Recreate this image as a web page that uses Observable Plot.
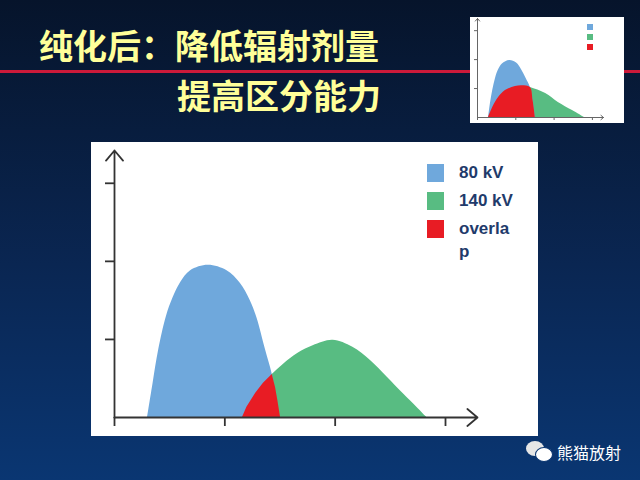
<!DOCTYPE html>
<html>
<head>
<meta charset="utf-8">
<script src="https://cdn.jsdelivr.net/npm/d3@7"></script>
<script src="https://cdn.jsdelivr.net/npm/@observablehq/plot@0.6"></script>
<style>
  html, body { margin: 0; padding: 0; }
  body { width: 640px; height: 480px; overflow: hidden; position: relative;
         background: linear-gradient(to bottom, #06142b 0%, #0a2652 55%, #0a3672 100%);
         font-family: "Liberation Sans", Arial, sans-serif; }
  .title { position: absolute; color: #ffff99; font-family: "Noto Sans CJK SC", sans-serif;
           font-weight: 700; font-size: 34px; line-height: 34px; white-space: nowrap; }
  #rule { position: absolute; left: 0; top: 70px; width: 640px; height: 3px; background: #cc1a3a; }
  #main { position: absolute; left: 91px; top: 142px; width: 447px; height: 294px; }
  #inset { position: absolute; left: 470px; top: 17px; width: 154px; height: 106px; }
  .sw { position: absolute; }
  .lt { position: absolute; font-weight: 700; font-size: 17px; line-height: 23px; color: #1f3b6b;
        width: 56px; word-break: break-all; }
  #wm { position: absolute; left: 557px; top: 440px; color: #ffffff; font-family: "Noto Sans CJK SC", sans-serif;
        font-size: 16px; line-height: 24px; white-space: nowrap; }
  .bub { position: absolute; border-radius: 50%; }
</style>
</head>
<body>
<div id="rule"></div>
<div class="title" id="t1" style="left:39px; top:28px;"></div>
<div class="title" id="t2" style="left:177px; top:78px;"></div>
<div id="inset"></div>
<div id="main"></div>
<div class="bub" style="left:526px; top:441px; width:18px; height:15px; background:#e6e6e6;"></div>
<div class="bub" style="left:535px; top:447px; width:16px; height:13px; background:#ffffff; border:1px solid #0a3570;"></div>
<div id="wm"></div>
<script>
// ---- text ----
const titleLine1 = "纯化后：降低辐射剂量";
const titleLine2 = "提高区分能力";
const watermark = "熊猫放射";

// ---- series ----
const seriesNames = ["80 kV", "140 kV", "overlap"];
const seriesColors = ["#6fa8dc", "#58bc82", "#e81c24"];

// main chart (after purification)
const blueX = [0.30, 0.35, 0.40, 0.47, 0.53, 0.60, 0.69, 0.85, 1.02, 1.14, 1.23, 1.29, 1.37, 1.43, 1.50];
const blueY = [0.00, 0.44, 0.86, 1.29, 1.53, 1.73, 1.88, 1.95, 1.88, 1.72, 1.50, 1.28, 0.86, 0.55, 0.00];
const greenX = [1.16, 1.20, 1.28, 1.35, 1.43, 1.53, 1.66, 1.80, 1.98, 2.16, 2.32, 2.47, 2.62, 2.74, 2.83];
const greenY = [0.00, 0.13, 0.31, 0.44, 0.55, 0.68, 0.82, 0.92, 0.99, 0.90, 0.73, 0.52, 0.30, 0.13, 0.00];
const overlapX = [1.16, 1.20, 1.24, 1.28, 1.35, 1.43, 1.46, 1.48, 1.505];
const overlapY = [0.00, 0.13, 0.22, 0.31, 0.44, 0.55, 0.38, 0.22, 0.00];

// inset chart (before purification)
const insetBlueX = [0.29, 0.34, 0.40, 0.47, 0.55, 0.65, 0.84, 1.02, 1.15, 1.27, 1.38, 1.45, 1.51];
const insetBlueY = [0.00, 0.50, 0.95, 1.35, 1.65, 1.85, 1.97, 1.88, 1.65, 1.35, 1.04, 0.60, 0.00];
const insetGreenX = [0.29, 0.40, 0.55, 0.73, 0.99, 1.17, 1.38, 1.78, 2.11, 2.48, 2.79];
const insetGreenY = [0.00, 0.35, 0.69, 0.93, 1.07, 1.10, 1.04, 0.83, 0.52, 0.24, 0.00];
const insetOverlapX = [0.29, 0.40, 0.55, 0.73, 0.99, 1.17, 1.38, 1.45, 1.51];
const insetOverlapY = [0.00, 0.35, 0.69, 0.93, 1.07, 1.10, 1.04, 0.60, 0.00];

// axes
const xMax = 3.29, yMax = 3.42;
const xTicks = [0, 1, 2, 3];
const yTicks = [1, 2, 3];

function pts(xs, ys) { return xs.map((x, i) => ({x, y: ys[i]})); }
const axisArrows = [{x1: 0, y1: 0, x2: xMax, y2: 0}, {x1: 0, y1: 0, x2: 0, y2: yMax}];

document.getElementById("t1").textContent = titleLine1;
document.getElementById("t2").textContent = titleLine2;
document.getElementById("wm").textContent = watermark;

function chart(opts) {
  return Plot.plot({
    width: opts.width, height: opts.height,
    marginLeft: opts.ml, marginRight: opts.mr, marginTop: opts.mt, marginBottom: opts.mb,
    x: {domain: [0, xMax], axis: null},
    y: {domain: [0, yMax], axis: null},
    style: {background: "#ffffff", overflow: "visible"},
    marks: [
      Plot.areaY(pts(opts.gx, opts.gy), {x: "x", y: "y", fill: seriesColors[1], curve: "catmull-rom"}),
      Plot.areaY(pts(opts.bx, opts.by), {x: "x", y: "y", fill: seriesColors[0], curve: "catmull-rom"}),
      Plot.areaY(pts(opts.ox, opts.oy), {x: "x", y: "y", fill: seriesColors[2], curve: opts.ocurve}),
      Plot.axisX({ticks: xTicks, tickSize: opts.tick, tickFormat: () => "", anchor: "bottom",
                  stroke: opts.stroke, strokeWidth: opts.sw}),
      Plot.axisY({ticks: yTicks, tickSize: opts.tick, tickFormat: () => "", anchor: "left",
                  stroke: opts.stroke, strokeWidth: opts.sw}),
      Plot.arrow(axisArrows, {x1: "x1", y1: "y1", x2: "x2", y2: "y2", stroke: opts.stroke,
                  strokeWidth: opts.sw, headLength: opts.head, headAngle: 80})
    ]
  });
}

const mainSvg = chart({width: 447, height: 294, ml: 23, mr: 61, mt: 8, mb: 19,
  bx: blueX, by: blueY, gx: greenX, gy: greenY, ox: overlapX, oy: overlapY, ocurve: "linear",
  tick: 9, stroke: "#333333", sw: 1.8, head: 11});
document.getElementById("main").appendChild(mainSvg);

const insetSvg = chart({width: 154, height: 106, ml: 7, mr: 21, mt: 1, mb: 6,
  bx: insetBlueX, by: insetBlueY, gx: insetGreenX, gy: insetGreenY, ox: insetOverlapX, oy: insetOverlapY,
  ocurve: "catmull-rom", tick: 3, stroke: "#666666", sw: 1, head: 5});
document.getElementById("inset").appendChild(insetSvg);

// legends
const mainBox = document.getElementById("main");
seriesNames.forEach((name, i) => {
  const sw = document.createElement("div");
  sw.className = "sw";
  Object.assign(sw.style, {left: "336px", top: (22 + 28 * i) + "px", width: "17px", height: "18px", background: seriesColors[i]});
  mainBox.appendChild(sw);
  const t = document.createElement("div");
  t.className = "lt";
  Object.assign(t.style, {left: "368px", top: (19 + 28 * i) + "px"});
  t.textContent = name;
  mainBox.appendChild(t);
});
const insetBox = document.getElementById("inset");
seriesColors.forEach((c, i) => {
  const sw = document.createElement("div");
  sw.className = "sw";
  Object.assign(sw.style, {left: "117px", top: (7 + 10 * i) + "px", width: "6px", height: "6px", background: c});
  insetBox.appendChild(sw);
});
</script>
</body>
</html>
